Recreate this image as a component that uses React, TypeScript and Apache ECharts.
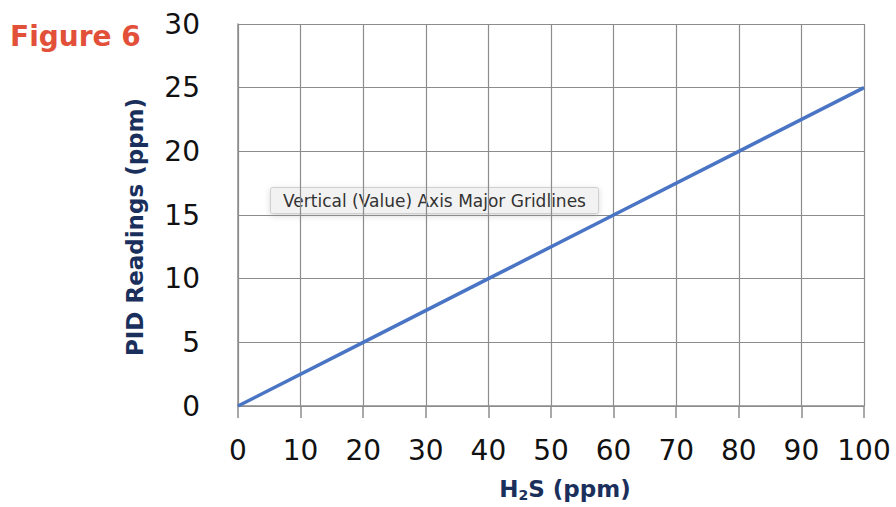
import React, { useEffect, useRef } from "react";
import * as echarts from "echarts";

const h2sPpm = [0, 20, 40, 60, 80, 100];
const pidReadings = [0, 5, 10, 15, 20, 25];
const xTicks = { min: 0, max: 100, interval: 10 };
const yTicks = { min: 0, max: 30, interval: 5 };
const titleText = "Figure 6";
const calloutText = "Vertical (Value) Axis Major Gridlines";

export default function App() {
  const ref = useRef<HTMLDivElement>(null);
  useEffect(() => {
    if (!ref.current) return;
    const chart = echarts.init(ref.current, null, { renderer: "svg" });
    const navy = "#1b2f5c";
    const font = "DejaVu Sans";
    chart.setOption({
      animation: false,
      backgroundColor: "#ffffff",
      grid: { left: 238, right: 32, top: 24, bottom: 101, containLabel: false, outerBoundsMode: "none" },
      xAxis: {
        type: "value",
        min: xTicks.min,
        max: xTicks.max,
        interval: xTicks.interval,
        axisLine: { show: true, lineStyle: { color: "#8c8c8c", width: 1.5 } },
        axisTick: { show: true, length: 12, lineStyle: { color: "#8c8c8c", width: 1.5 } },
        splitLine: { show: true, lineStyle: { color: "#8c8c8c", width: 1.2 } },
        axisLabel: { color: "#111", fontSize: 28, fontFamily: font, margin: 30 },
        name: "{a|H}{s|2}{a|S (ppm)}",
        nameLocation: "middle",
        nameGap: 70,
        nameTextStyle: {
          padding: [0, 0, 0, 28],
          rich: {
            a: { color: navy, fontSize: 23, fontFamily: font, fontWeight: "bold" },
            s: { color: navy, fontSize: 14, fontFamily: font, fontWeight: "bold", padding: [12, 0, 0, 0] },
          },
        },
      },
      yAxis: {
        type: "value",
        min: yTicks.min,
        max: yTicks.max,
        interval: yTicks.interval,
        axisLine: { show: true, lineStyle: { color: "#8c8c8c", width: 1.5 } },
        axisTick: { show: false },
        splitLine: { show: true, lineStyle: { color: "#8c8c8c", width: 1.2 } },
        axisLabel: { color: "#111", fontSize: 28, fontFamily: font, margin: 38 },
        name: "PID Readings (ppm)",
        nameLocation: "middle",
        nameRotate: 90,
        nameGap: 92,
        nameTextStyle: { color: navy, fontSize: 23, fontFamily: font, fontWeight: "bold", padding: [0, 24, 0, 0] },
      },
      series: [
        {
          type: "line",
          data: h2sPpm.map((x, i) => [x, pidReadings[i]]),
          showSymbol: false,
          lineStyle: { color: "#4a74c4", width: 3.5 },
        },
      ],
      graphic: [
        {
          type: "text",
          left: 10,
          top: 22,
          style: { text: titleText, fill: "#e2503a", fontSize: 28, fontFamily: font, fontWeight: "bold" },
        },
        {
          type: "group",
          left: 270,
          top: 187,
          children: [
            {
              type: "rect",
              shape: { x: 0, y: 0, width: 328, height: 26, r: 2 },
              style: { fill: "#f2f2f2", stroke: "#cfcfcf", lineWidth: 1, shadowBlur: 6, shadowColor: "rgba(0,0,0,0.15)", shadowOffsetY: 2 },
            },
            {
              type: "text",
              x: 164,
              y: 13,
              style: { text: calloutText, fill: "#333", fontSize: 17, fontFamily: font, align: "center", verticalAlign: "middle" },
            },
          ],
        },
      ],
    });
    return () => chart.dispose();
  }, []);
  return <div ref={ref} style={{ position: "fixed", left: 0, top: 0, width: 896, height: 507 }} />;
}
